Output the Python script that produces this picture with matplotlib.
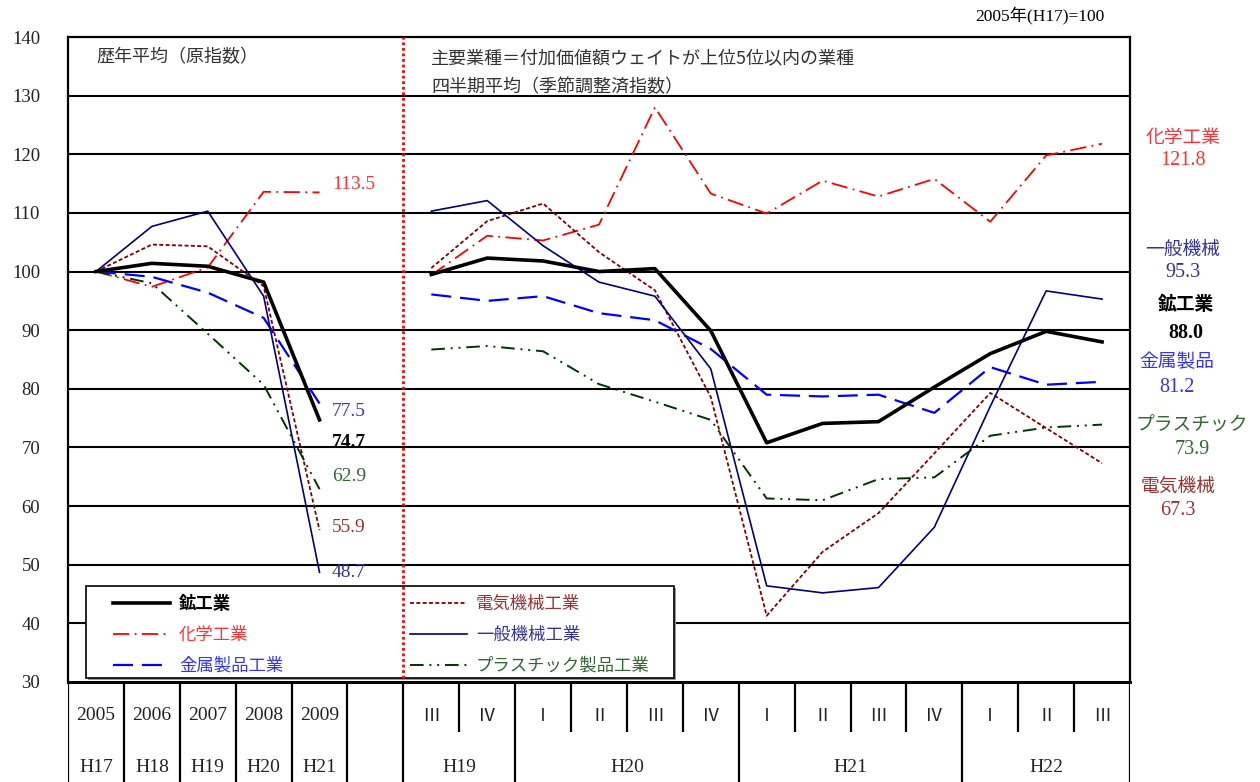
import numpy as np
import matplotlib.pyplot as plt
from matplotlib.lines import Line2D
from matplotlib.patches import Rectangle

plt.rcParams['font.family'] = ['Liberation Serif', 'Noto Sans CJK JP', 'DejaVu Sans']
JP = ['Noto Sans CJK JP', 'DejaVu Sans']

# ---- data ----
years = ['2005', '2006', '2007', '2008', '2009']
eras = ['H17', 'H18', 'H19', 'H20', 'H21']
quarters = ['Ⅲ', 'Ⅳ', 'Ⅰ', 'Ⅱ', 'Ⅲ', 'Ⅳ', 'Ⅰ', 'Ⅱ', 'Ⅲ', 'Ⅳ', 'Ⅰ', 'Ⅱ', 'Ⅲ']
q_years = ['H19', 'H20', 'H21', 'H22']
q_year_span = [(0, 1), (2, 5), (6, 9), (10, 12)]

names = ['鉱工業', '化学工業', '金属製品工業', '電気機械工業', '一般機械工業', 'プラスチック製品工業']
short = ['鉱工業', '化学工業', '金属製品', '電気機械', '一般機械', 'プラスチック']

annual = {
    '鉱工業':       [100, 101.4, 100.9, 98.2, 74.7],
    '化学工業':     [100, 97.4, 100.7, 113.6, 113.5],
    '金属製品工業': [100, 99.1, 96.4, 92.1, 77.5],
    '電気機械工業': [100, 104.6, 104.3, 97.5, 55.9],
    '一般機械工業': [100, 107.7, 110.3, 95.8, 48.7],
    'プラスチック製品工業': [100, 98.0, 89.4, 80.7, 62.9],
}
quarterly = {
    '鉱工業':       [99.5, 102.3, 101.8, 100.0, 100.5, 89.9, 70.8, 74.1, 74.4, 80.3, 86.0, 89.8, 88.0],
    '化学工業':     [99.4, 106.1, 105.3, 108.0, 128.0, 113.3, 109.9, 115.5, 112.8, 115.8, 108.5, 119.8, 121.8],
    '金属製品工業': [96.1, 95.0, 95.8, 92.9, 91.7, 86.8, 79.0, 78.7, 79.0, 75.9, 83.7, 80.7, 81.2],
    '電気機械工業': [100.6, 108.6, 111.6, 103.3, 96.8, 78.6, 41.3, 52.2, 58.8, 69.0, 79.3, 73.3, 67.3],
    '一般機械工業': [110.3, 112.1, 104.4, 98.2, 95.8, 83.4, 46.4, 45.2, 46.1, 56.4, 77.0, 96.7, 95.3],
    'プラスチック製品工業': [86.7, 87.3, 86.4, 80.8, 77.8, 74.7, 61.3, 61.0, 64.6, 64.9, 72.0, 73.4, 73.9],
}

# ---- styles ----
line_col = ['black', '#FF0000', '#0000FF', '#800000', '#000080', '#003300']
text_col = ['black', '#FF3333', '#3333FF', '#993333', '#333399', '#336633']
lws = [2.6, 1.3, 1.6, 1.3, 1.2, 1.4]
dashes = ['-', (0, (9, 3, 1, 3)), (0, (9, 4)), (0, (2.2, 1.3)), '-', (0, (7, 3, 1, 3, 1, 3))]
end_off = [-3.8, 1.4, -1.3, 0.5, 0, 2.1]          # y offsets of annual end labels
# right side labels: (x, y of name, y of value) in data units
right_pos = [(19.5, 94.3, 89.5), (19.45, 122.9, 119.0), (19.34, 84.6, 80.3),
             (19.36, 63.4, 59.3), (19.45, 103.7, 99.8), (19.61, 73.8, 69.6)]

fig = plt.figure(figsize=(12.6, 7.82), dpi=100)
ax = fig.add_axes([68 / 1260, 1 - 682 / 782, 1062 / 1260, 645 / 782])

xa = np.arange(len(years))
xq = np.arange(len(quarters)) + len(years) + 1

for i, nm in enumerate(names):
    z = 5 if i == 0 else 3
    ax.plot(xa, annual[nm], color=line_col[i], lw=lws[i], linestyle=dashes[i], zorder=z)
    ax.plot(xq, quarterly[nm], color=line_col[i], lw=lws[i], linestyle=dashes[i], zorder=z)

# annual end labels
for i, nm in enumerate(names):
    v = annual[nm][-1]
    ax.text(xa[-1] + 0.22, v + end_off[i], f'{v:.1f}', color=text_col[i], fontsize=14,
            fontweight='bold' if i == 0 else 'normal', va='center', ha='left', zorder=6)

# right side labels
for i, nm in enumerate(names):
    v = quarterly[nm][-1]
    x, yn, yv = right_pos[i]
    w = 'bold' if i == 0 else 'normal'
    ax.text(x, yn, short[i], color=text_col[i], fontsize=13.5, family=JP, ha='center', va='center',
            fontweight=w, clip_on=False)
    ax.text(x, yv, f'{v:.1f}', color=text_col[i], fontsize=14.5, ha='center', va='center',
            fontweight=w, clip_on=False)

ax.set_xlim(-0.5, 18.5)
ax.set_ylim(30, 140)
ax.set_yticks(np.arange(30, 141, 10))
ax.set_xticks([])
for y in range(40, 140, 10):
    ax.axhline(y, color='black', lw=1.5, zorder=1)
ax.tick_params(axis='y', length=0, pad=20, labelsize=13.5, labelcolor='#222222')
for s in ax.spines.values():
    s.set_linewidth(1.6)
ax.spines['bottom'].set_linewidth(2.2)

# separator between annual and quarterly
ax.axvline(5.5, ymin=0.006, ymax=1, color='#FF0000', lw=2.0, linestyle=(0, (1, 1)), zorder=7)

ax.text(0.0, 136.6, '歴年平均（原指数）', family=JP, fontsize=13, color='#333333', va='center')
ax.text(6.0, 136.4, '主要業種＝付加価値額ウェイトが上位5位以内の業種', family=JP, fontsize=13,
        color='#333333', va='center')
ax.text(6.0, 131.5, '四半期平均（季節調整済指数）', family=JP, fontsize=13, color='#333333', va='center')
fig.text(1105 / 1260, 1 - 15 / 782, '2005年(H17)=100', family=['Liberation Serif', 'Noto Sans CJK JP'],
         fontsize=12.5, ha='right', va='center')

# legend box (white, hides the 40 grid line) and legend
ax.add_patch(Rectangle((88 / 1260, 1 - 680 / 782), 588 / 1260, 92 / 782, transform=fig.transFigure,
                       facecolor='#999999', edgecolor='none', zorder=4, clip_on=False))
ax.add_patch(Rectangle((86 / 1260, 1 - 678 / 782), 588 / 1260, 92 / 782, transform=fig.transFigure,
                       facecolor='white', edgecolor='black', lw=1.2, zorder=4, clip_on=False))
handles = []
for i, nm in enumerate(names):
    handles.append(Line2D([], [], color=line_col[i], lw=lws[i], linestyle=dashes[i]))
leg = ax.legend(handles, names, ncol=2, loc='upper left',
                bbox_to_anchor=(113 / 1260, 1 - 595 / 782), bbox_transform=fig.transFigure,
                prop={'family': JP, 'size': 12.5}, handlelength=3.3, handletextpad=0.5,
                labelspacing=0.74, borderpad=0, borderaxespad=0, columnspacing=7.3,
                frameon=False)
leg.set_zorder(6)
for i, t in enumerate(leg.get_texts()):
    t.set_color(text_col[i])
    if i == 0:
        t.set_fontweight('bold')

# category table below the plot
tb = fig.add_axes([68 / 1260, 0, 1062 / 1260, 100 / 782])
tb.set_xlim(-0.5, 18.5)
tb.set_ylim(0, 1)
tb.axis('off')
full = [-0.5, 0.5, 1.5, 2.5, 3.5, 4.5, 5.5, 7.5, 11.5, 15.5, 18.5]
part = [6.5, 8.5, 9.5, 10.5, 12.5, 13.5, 14.5, 16.5, 17.5]
tb.vlines(full, 0, 1, color='black', lw=1.6)
tb.vlines(part, 0.5, 1, color='black', lw=1.6)
for i in range(len(years)):
    tb.text(xa[i], 0.66, years[i], ha='center', va='center', fontsize=14, color='#222222')
    tb.text(xa[i], 0.15, eras[i], ha='center', va='center', fontsize=14, color='#222222')
for i, q in enumerate(quarters):
    tb.text(xq[i], 0.66, q, ha='center', va='center', fontsize=13, family=JP, color='#222222')
for lab, (a, b) in zip(q_years, q_year_span):
    tb.text((xq[a] + xq[b]) / 2, 0.15, lab, ha='center', va='center', fontsize=14, color='#222222')

fig.savefig('out.png', dpi=100)
